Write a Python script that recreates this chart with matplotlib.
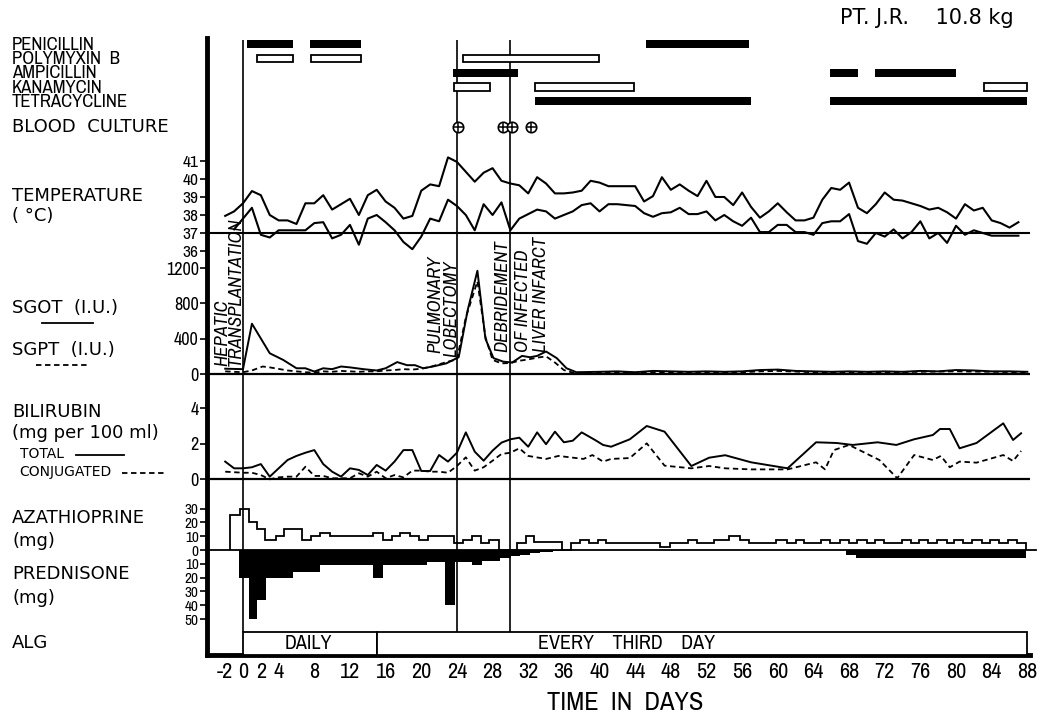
import matplotlib
matplotlib.use('Agg')
import matplotlib.pyplot as plt
import matplotlib.font_manager as fm
from matplotlib.lines import Line2D
import numpy as np

# ---------------- data ----------------
x_ticks = [-2, 0, 2, 4, 8, 12, 16, 20, 24, 28, 32, 36, 40, 44, 48, 52, 56, 60, 64,
           68, 72, 76, 80, 84, 88]
event_days = [0, 24, 30]

drug_names = ['PENICILLIN', 'POLYMYXIN  B', 'AMPICILLIN', 'KANAMYCIN', 'TETRACYCLINE']
penicillin_start = [0.5, 7.5, 45.2]
penicillin_end = [5.6, 13.2, 56.8]
polymyxin_start = [1.6, 7.6, 24.7]
polymyxin_end = [5.6, 13.2, 39.9]
ampicillin_start = [23.6, 65.9, 70.9]
ampicillin_end = [30.8, 69.0, 80.0]
kanamycin_start = [23.7, 32.8, 83.1]
kanamycin_end = [27.7, 43.9, 88.0]
tetracycline_start = [32.8, 65.9]
tetracycline_end = [57.0, 88.0]
blood_culture_days = [24.1, 29.2, 30.2, 32.3]

temp_hi_days = list(range(-2, 88))
temp_hi = [37.95, 38.2, 38.65, 39.33, 39.1, 38.0, 37.7, 37.7, 37.5, 38.65, 38.65, 39.1,
           38.3, 38.6, 38.9, 38.0, 39.1, 39.4, 38.75, 38.4, 37.8, 37.95, 39.35, 39.7,
           39.6, 41.2, 40.95, 40.4, 39.85, 40.35, 40.6, 39.9, 39.75, 39.65, 39.2, 40.1,
           39.75, 39.2, 39.2, 39.25, 39.35, 39.9, 39.8, 39.6, 39.6, 39.6, 39.6, 38.75,
           39.05, 40.1, 39.4, 39.7, 39.35, 39.05, 39.9, 39.0, 39.0, 38.55, 39.25, 38.45,
           37.85, 38.2, 38.65, 38.15, 37.7, 37.7, 37.85, 38.85, 39.5, 39.4, 39.8, 38.4,
           38.1, 38.6, 39.25, 38.85, 38.8, 38.65, 38.5, 38.3, 38.4, 38.15, 37.8, 38.6,
           38.25, 38.4, 37.7, 37.55, 37.3, 37.6]
temp_lo_days = list(range(-1, 88))
temp_lo = [37.2, 37.8, 38.4, 36.9, 36.75, 37.15, 37.15, 37.15, 37.15, 37.55, 37.6, 36.7,
           36.9, 37.45, 36.35, 37.8, 38.0, 37.6, 37.15, 36.5, 36.1, 36.8, 37.8, 37.65,
           38.85, 38.5, 38.0, 37.15, 38.6, 38.0, 38.7, 37.15, 37.8, 38.05, 38.3, 38.2,
           37.8, 38.0, 38.2, 38.55, 38.65, 38.2, 38.6, 38.6, 38.55, 38.5, 38.1, 37.9,
           38.1, 38.15, 38.4, 38.05, 38.05, 38.2, 37.7, 38.0, 37.65, 37.4, 37.85, 37.05,
           37.05, 37.45, 37.45, 37.05, 37.05, 36.9, 37.55, 37.65, 37.65, 38.05, 36.55,
           36.4, 37.0, 36.8, 37.2, 36.7, 37.05, 37.65, 36.7, 37.0, 36.45, 37.4, 36.9,
           37.15, 37.0, 36.85, 36.85, 36.85, 36.85]

sgot_days = [-2, 0, 1, 3, 4.5, 6, 7, 8, 9, 10, 11, 12, 13.5, 15, 16, 17.3, 18.4, 19.3,
             20.2, 21.3, 22.8, 24.2, 25.2, 26.3, 27.2, 28.1, 29.2, 30.2, 31.3, 32.2, 33,
             34, 35.2, 36.3, 37.4, 40, 42, 44, 46, 48, 50, 52, 54, 56, 58, 60, 62, 64,
             66, 68, 70, 72, 74, 76, 78, 80, 82, 84, 86, 88]
sgot = [60, 55, 570, 235, 160, 65, 65, 28, 65, 55, 85, 75, 55, 40, 65, 135, 100, 100,
        65, 85, 120, 190, 720, 1170, 400, 180, 140, 130, 205, 190, 205, 255, 180, 65, 20,
        25, 30, 20, 35, 30, 25, 30, 25, 30, 45, 50, 35, 30, 25, 30, 25, 30, 25, 35, 30,
        45, 40, 30, 30, 25]
sgpt_days = [-2, 0, 1, 2.2, 3, 5, 7, 8, 9, 10, 11, 12, 13, 14, 15, 16, 17, 18, 19, 20,
             21, 22, 23, 24, 25, 26.3, 27.2, 28, 29, 30, 31, 32, 33, 34, 35, 36, 37, 40,
             44, 48, 52, 56, 58, 60, 64, 68, 72, 76, 80, 84, 88]
sgpt = [30, 20, 40, 85, 75, 40, 20, 15, 30, 25, 35, 30, 25, 30, 30, 40, 45, 55, 50, 60,
        80, 110, 140, 165, 640, 1050, 420, 160, 120, 125, 150, 165, 185, 200, 130, 45, 15,
        15, 15, 20, 15, 20, 30, 35, 20, 20, 20, 25, 30, 25, 20]

bili_total_days = [-2, -1, 0, 1, 2, 3, 4, 5, 6, 7, 8, 9, 10, 11, 12, 13, 14, 15, 16, 17,
                   18, 19, 20, 21, 22, 23, 24, 25, 26, 27, 28, 29, 30, 31, 32, 33, 34, 35,
                   36, 37, 38, 39.5, 40.4, 41.3, 43.4, 45.3, 47.3, 50.3, 52.3, 54.1, 57,
                   61.1, 64.3, 66.6, 68.4, 71.2, 73.3, 75.3, 77.4, 78.2, 79.3, 80.4, 82.3,
                   85.3, 86.4, 87.3]
bili_total = [1.0, 0.62, 0.62, 0.68, 0.86, 0.15, 0.62, 1.09, 1.32, 1.5, 1.65, 0.86, 0.43,
              0.15, 0.62, 0.53, 0.24, 0.81, 0.49, 1.0, 1.65, 1.65, 0.47, 0.47, 1.37, 1.0,
              1.5, 2.65, 1.56, 1.05, 1.62, 2.07, 2.26, 2.35, 1.84, 2.65, 1.98, 2.69, 2.09,
              2.18, 2.65, 2.22, 1.94, 1.84, 2.26, 3.01, 2.69, 0.75, 1.22, 1.36, 0.96, 0.62,
              2.09, 2.05, 1.94, 2.09, 1.94, 2.26, 2.5, 2.84, 2.84, 1.75, 2.05, 3.16, 2.22,
              2.6]
bili_conj_days = [-2, 0, 1, 2, 3, 4, 5, 6, 7, 8, 9, 10, 11, 12, 13, 14, 15, 16, 17, 18,
                  19, 20, 21, 22, 23, 24, 25, 26, 27, 28, 29, 30, 31, 32, 34, 35.4, 36.7,
                  38.2, 39.2, 40.4, 41.3, 43.4, 45.3, 47.3, 50.3, 52.3, 54.1, 57, 61.1,
                  64.3, 65.3, 66.3, 68, 71.4, 73.4, 75.3, 77.4, 78.3, 79.3, 80.4, 82.3,
                  85.3, 86.4, 87.3]
bili_conj = [0.43, 0.37, 0.37, 0.24, 0.0, 0.11, 0.15, 0.15, 0.71, 0.19, 0.19, 0.06, 0.06,
             0.06, 0.34, 0.15, 0.43, 0.06, 0.24, 0.11, 0.49, 0.49, 0.43, 0.43, 0.37, 0.75,
             1.24, 0.49, 0.68, 1.05, 1.43, 1.5, 1.75, 1.32, 1.15, 1.32, 1.24, 1.15, 1.37,
             1.0, 1.15, 1.2, 2.03, 0.77, 0.62, 0.75, 0.62, 0.56, 0.56, 0.96, 0.56, 1.65,
             1.94, 1.09, 0.06, 1.37, 1.09, 1.32, 0.68, 1.0, 0.94, 1.37, 1.03, 1.6]

aza_edges = [-1.5, -0.3, 0.7, 1.6, 2.5, 3.7, 4.6, 6.6, 7.6, 8.6, 9.8, 14.6, 15.7, 16.7,
             17.6, 18.7, 19.7, 20.7, 23.7, 24.7, 25.7, 26.7, 27.6, 28.7, 30.7, 31.8, 32.7,
             35.8, 36.8, 37.8, 38.8, 39.8, 40.7, 46.8, 47.9, 49.9, 50.9, 52.8, 54.5, 55.8,
             56.8, 59.8, 61.0, 62.0, 62.9, 64.8, 65.9, 67.0, 68.0, 68.9, 70.0, 70.9, 71.9,
             73.9, 75.0, 75.9, 76.9, 77.9, 79.0, 79.8, 80.8, 81.8, 82.9, 83.8, 84.8, 85.8,
             86.8, 87.8]
aza_dose = [25.5, 30, 20, 15, 7, 10, 15, 7, 10, 12.5, 10, 12.5, 7, 10, 12.5, 10, 7, 10,
            5, 7, 10, 5, 7, 0, 5, 10, 5.5, 0, 5, 7.5, 5, 7.5, 5, 2, 5, 7.5, 5, 7.5, 10,
            7.5, 5, 7.5, 5, 7.5, 5, 7.5, 5, 7.5, 5, 7.5, 5, 7.5, 5, 7.5, 5, 7.5, 5, 7.5,
            5, 7.5, 5, 7.5, 5, 7.5, 5, 7.5, 5]
pred_edges = [-0.4, 0.7, 1.6, 2.6, 5.6, 8.6, 14.6, 15.7, 20.6, 22.7, 23.8, 25.7, 26.8,
              28.8, 30.1, 31.1, 32.2, 33.3, 34.8, 36.0, 67.7, 68.8, 87.8]
pred_dose = [20, 50, 36, 20, 16, 11, 20, 11, 9, 40, 9, 11, 8, 6, 4.5, 3.5, 2.5, 1.5, 0.7,
             0, 3.5, 6]

alg_start = [0, 15]
alg_end = [15, 88]
alg_labels = ['DAILY', 'EVERY    THIRD    DAY']

# ---------------- fonts ----------------
_fonts = fm.fontManager.ttflist
_narrow_named = sorted({f.name for f in _fonts
                        if ('Narrow' in f.name or 'Condensed' in f.name)
                        and 'Mono' not in f.name and 'Serif' not in f.name})
_cond_stretch = sorted({f.name for f in _fonts
                        if str(f.stretch) in ('condensed', 'semi-condensed',
                                              'extra-condensed', '75', '87')
                        and 'Mono' not in f.name and 'Serif' not in f.name})
if _narrow_named:
    NARROW = [_narrow_named[0], 'DejaVu Sans']
    NSTRETCH = 'normal'
    NSCALE = 1.0
elif _cond_stretch:
    NARROW = [_cond_stretch[0], 'DejaVu Sans']
    NSTRETCH = 'condensed'
    NSCALE = 1.0
else:
    NARROW = ['Roboto', 'DejaVu Sans']
    NSTRETCH = 'normal'
    NSCALE = 0.9


def nfont(size, **kw):
    d = dict(family=NARROW, fontstretch=NSTRETCH, fontsize=size * NSCALE)
    d.update(kw)
    return d


# ---------------- layout ----------------
W, H = 1050, 718
X0, X1 = 207, 1030
XLIM = (-4.04, 88.3)
AXIS_Y = 655

fig = plt.figure(figsize=(W / 100, H / 100), dpi=100)


def panel(top, bottom):
    ax = fig.add_axes([X0 / W, 1 - bottom / H, (X1 - X0) / W, (bottom - top) / H])
    ax.set_xlim(*XLIM)
    ax.patch.set_alpha(0)
    for s in ax.spines.values():
        s.set_visible(False)
    ax.set_xticks([])
    ax.tick_params(axis='y', direction='out', length=5, width=1.2, pad=1)
    return ax


def set_yticks(ax, ticks, labels, size):
    ax.set_yticks(ticks)
    ax.set_yticklabels(labels)
    for t in ax.get_yticklabels():
        t.set_fontfamily(NARROW)
        t.set_fontstretch(NSTRETCH)
        t.set_fontsize(size * NSCALE)


def ftext(px, py, s, **kw):
    fig.text(px / W, 1 - py / H, s, **kw)


def fline(x0, x1, py, **kw):
    fig.add_artist(Line2D([x0 / W, x1 / W], [1 - py / H, 1 - py / H],
                          transform=fig.transFigure, color='k', **kw))


# frame with thick axes and event lines
frame = panel(38, AXIS_Y)
frame.spines['left'].set_visible(True)
frame.spines['left'].set_linewidth(3.5)
frame.spines['bottom'].set_visible(True)
frame.spines['bottom'].set_linewidth(3.5)
frame.set_ylim(0, 1)
frame.set_yticks([])
frame.set_xticks(x_ticks)
frame.set_xticklabels([str(v) for v in x_ticks])
frame.tick_params(axis='x', length=0, pad=5)
for t in frame.get_xticklabels():
    t.set_fontfamily(NARROW)
    t.set_fontstretch(NSTRETCH)
    t.set_fontsize(16 * NSCALE)
span = AXIS_Y - 38
frame.vlines(event_days, (AXIS_Y - 632) / span, (AXIS_Y - 40) / span,
             transform=frame.get_xaxis_transform(), color='k', lw=1.2)

# antibiotics
abx = panel(37, 140)
abx.set_ylim(6.71, -0.49)
abx.set_yticks([])
solid = [(penicillin_start, penicillin_end, 0), (ampicillin_start, ampicillin_end, 2),
         (tetracycline_start, tetracycline_end, 4)]
opened = [(polymyxin_start, polymyxin_end, 1), (kanamycin_start, kanamycin_end, 3)]
for st, en, row in solid:
    abx.barh([row] * len(st), np.array(en) - np.array(st), left=st, height=0.56,
             color='k')
for st, en, row in opened:
    abx.barh([row] * len(st), np.array(en) - np.array(st), left=st, height=0.5,
             facecolor='white', edgecolor='k', lw=1.3)
bc_row = 5.77
abx.plot(blood_culture_days, [bc_row] * len(blood_culture_days), 'o', ms=7.5,
         mfc='white', mec='k', mew=1.2, clip_on=False)
abx.plot(blood_culture_days, [bc_row] * len(blood_culture_days), '+', ms=7.5,
         color='k', mew=1.1, clip_on=False)

# temperature
tax = panel(150, 252)
tax.set_ylim(35.944, 41.611)
set_yticks(tax, [36, 37, 38, 39, 40, 41], ['36', '37', '38', '39', '40', '41'], 12.5)
tax.axhline(37, color='k', lw=1.5)
tax.plot(temp_hi_days, temp_hi, color='k', lw=1.5)
tax.plot(temp_lo_days, temp_lo, color='k', lw=1.5)

# SGOT / SGPT
sax = panel(256, 378)
sax.set_ylim(-45.3, 1337)
set_yticks(sax, [0, 400, 800, 1200], ['0', '400', '800', '1200'], 13)
sax.axhline(0, color='k', lw=1.6)
sax.plot(sgot_days, sgot, color='k', lw=1.4)
sax.plot(sgpt_days, sgpt, color='k', lw=1.3, dashes=(3, 2))

# bilirubin
bax = panel(392, 483)
bax.set_ylim(-0.209, 4.93)
set_yticks(bax, [0, 2, 4], ['0', '2', '4'], 13)
bax.axhline(0, color='k', lw=1.6)
bax.plot(bili_total_days, bili_total, color='k', lw=1.4)
bax.plot(bili_conj_days, bili_conj, color='k', lw=1.3, dashes=(3, 2))

# azathioprine / prednisone
dax = panel(500, 625)
dax.set_ylim(-54.3, 36.2)
set_yticks(dax, [30, 20, 10, 0, -10, -20, -30, -40, -50],
           ['30', '20', '10', '0', '10', '20', '30', '40', '50'], 11)
dax.plot([XLIM[0], 89.0], [0, 0], color='k', lw=1.3, clip_on=False)
dax.stairs(aza_dose, aza_edges, baseline=0, fill=False, color='k', lw=1.3)
dax.stairs(-np.array(pred_dose), pred_edges, baseline=0, fill=True, color='k', lw=0.8)

# ALG
gax = panel(632, AXIS_Y)
gax.set_ylim(0, 1)
gax.set_yticks([])
gax.barh([0.5, 0.5], np.array(alg_end) - np.array(alg_start), left=alg_start, height=1,
         facecolor='white', edgecolor='k', lw=1.3, clip_on=False)
gax.text(7.3, 0.52, alg_labels[0], ha='center', va='center', **nfont(14.5))
gax.text(43, 0.52, alg_labels[1], ha='center', va='center', **nfont(14.5))

# ---------------- texts ----------------
ftext(840, 18, 'PT. J.R.    10.8 kg', fontsize=15, ha='left', va='center')
for name, py in zip(drug_names, [45, 59.5, 73.5, 88, 102]):
    ftext(12, py, name, va='center', ha='left', **nfont(13.5))
ftext(12, 127, 'BLOOD  CULTURE', fontsize=13, va='center')
ftext(12, 196, 'TEMPERATURE', fontsize=13, va='center')
ftext(12, 216, '( °C)', fontsize=13, va='center')
ftext(12, 308, 'SGOT  (I.U.)', fontsize=13, va='center')
fline(42, 93, 323, lw=1.3)
ftext(12, 350, 'SGPT  (I.U.)', fontsize=13, va='center')
fline(36, 88, 365, lw=1.3, dashes=(3, 2))
ftext(12, 412, 'BILIRUBIN', fontsize=13, va='center')
ftext(12, 433, '(mg per 100 ml)', fontsize=13, va='center')
ftext(20, 454, 'TOTAL', fontsize=10, va='center')
fline(76, 124, 455, lw=1.3)
ftext(19, 472, 'CONJUGATED', fontsize=10, va='center')
fline(122, 167, 473, lw=1.3, dashes=(3, 2))
ftext(12, 518, 'AZATHIOPRINE', fontsize=13, va='center')
ftext(12, 541, '(mg)', fontsize=13, va='center')
ftext(12, 574, 'PREDNISONE', fontsize=13, va='center')
ftext(12, 598, '(mg)', fontsize=13, va='center')
ftext(12, 643, 'ALG', fontsize=13, va='center')
ftext(625, 702, 'TIME  IN  DAYS', ha='center', va='center', **nfont(19))

events = [('HEPATIC', 222, 366), ('TRANSPLANTATION', 236, 366),
          ('PULMONARY', 435, 353), ('LOBECTOMY', 451, 357),
          ('DEBRIDEMENT', 502, 352), ('OF INFECTED', 523, 352),
          ('LIVER INFARCT', 541, 352)]
for s, px, py in events:
    ftext(px, py, s, rotation=90, style='italic', ha='center', va='bottom',
          **nfont(13.5))

fig.savefig('out.png', dpi=100)
